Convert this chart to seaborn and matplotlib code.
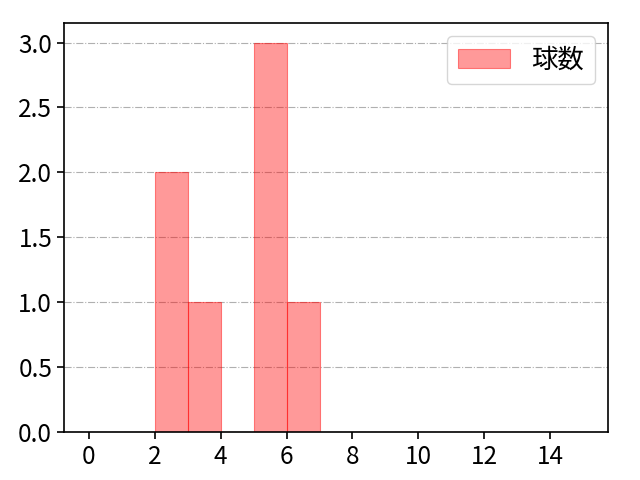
import matplotlib
matplotlib.use("Agg")
import matplotlib.pyplot as plt
import seaborn as sns
import numpy as np
import pandas as pd

# raw observations (values whose histogram is drawn)
pitch_values = [2, 2, 3, 5, 5, 5, 6]
bin_edges = list(range(0, 16))
series_label = "球数"

plt.rcParams['font.family'] = ['Noto Sans CJK JP', 'DejaVu Sans']
plt.rcParams['font.size'] = 18

fig, ax = plt.subplots(figsize=(6.4, 4.8), dpi=100)
df = pd.DataFrame({series_label: pitch_values})
sns.histplot(data=df, x=series_label, bins=bin_edges, color='red', alpha=0.4,
             edgecolor=(1, 0, 0, 0.45), linewidth=0.8, label=series_label, ax=ax)
ax.set_xlim(-0.75, 15.75)
ax.set_xticks(np.arange(0, 16, 2))
ax.set_xlabel('')
ax.set_ylabel('')
ax.grid(axis='y', linestyle='-.', color='#b0b0b0', linewidth=0.8)
ax.set_axisbelow(True)
for s in ax.spines.values():
    s.set_linewidth(1.2)
ax.tick_params(width=1.2, length=5, labelsize=17.5)
ax.legend(loc='upper right', fontsize=19)
fig.subplots_adjust(left=0.1, right=0.95, top=0.952, bottom=0.1)
fig.savefig('out.png', dpi=100)
